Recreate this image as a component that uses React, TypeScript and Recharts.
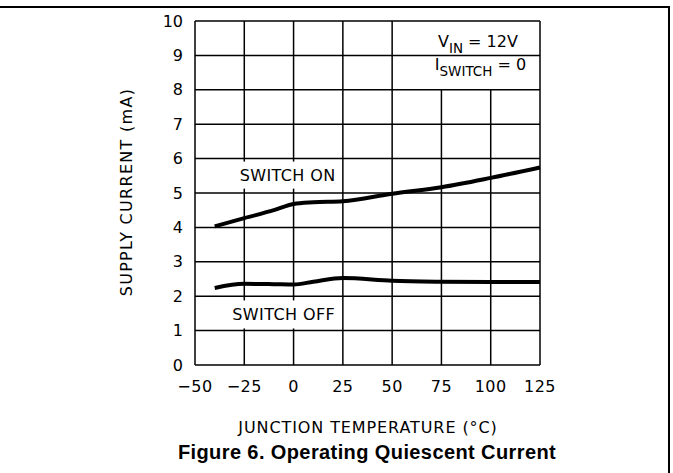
import React from 'react';
import { LineChart, Line, XAxis, YAxis, CartesianGrid, ReferenceLine, ReferenceDot } from 'recharts';

// Operating quiescent current vs junction temperature
const temps = [-40, -25, -10, 0, 10, 25, 50, 75, 100, 125];
const switchOn = [4.03, 4.27, 4.5, 4.68, 4.73, 4.76, 4.98, 5.17, 5.44, 5.74];
const switchOff = [2.24, 2.36, 2.35, 2.34, 2.42, 2.53, 2.45, 2.42, 2.41, 2.41];

const xTicks = [-50, -25, 0, 25, 50, 75, 100, 125];
const yTicks = [0, 1, 2, 3, 4, 5, 6, 7, 8, 9, 10];
const fullVerticals = [-50, -25, 0, 25, 50, 125];
const shortVerticals = [75, 100]; // stop under the condition boxes

const data = temps.map((t, i) => ({ t, on: switchOn[i], off: switchOff[i] }));

const FONT = "'DejaVu Sans', sans-serif";

const fmtTick = (v: number) => (v < 0 ? `\u2212${Math.abs(v)}` : `${v}`);

const BoxLabel = (props: any) => {
  const { viewBox, text, w, h } = props;
  const cx = viewBox.x + viewBox.width / 2;
  const cy = viewBox.y + viewBox.height / 2;
  return (
    <g>
      <rect x={cx - w / 2} y={cy - h / 2} width={w} height={h} fill="#fff" />
      <text x={cx} y={cy} textAnchor="middle" dominantBaseline="central" fontFamily={FONT} fontSize={16} letterSpacing={0.4} fill="#000">
        {text}
      </text>
    </g>
  );
};

const SubLabel = (props: any) => {
  const { viewBox, main, sub, rest } = props;
  const x = viewBox.x + viewBox.width / 2;
  const y = viewBox.y + viewBox.height / 2;
  return (
    <text x={x} y={y} textAnchor="end" fontFamily={FONT} fontSize={16} fill="#000">
      <tspan>{main}</tspan>
      <tspan fontSize={13.5} dy={6}>{sub}</tspan>
      <tspan dy={-6}>{rest}</tspan>
    </text>
  );
};

export default function App() {
  return (
    <div style={{ position: 'absolute', left: 0, top: 0, width: 673, height: 473, background: '#fff' }}>
      <div style={{ position: 'absolute', left: 0, top: 6, width: 670, height: 2, background: '#000' }} />
      <div style={{ position: 'absolute', left: 668, top: 6, width: 2, height: 467, background: '#000' }} />

      <LineChart width={673} height={473} data={data} margin={{ top: 21, right: 133, bottom: 78, left: 135 }}>
        <CartesianGrid vertical={false} stroke="#000" strokeWidth={1.5} strokeOpacity={1} />
        {fullVerticals.map((v) => (
          <ReferenceLine key={v} x={v} stroke="#000" strokeWidth={1.5} />
        ))}
        {shortVerticals.map((v) => (
          <ReferenceLine key={v} segment={[{ x: v, y: 0 }, { x: v, y: 8 }]} stroke="#000" strokeWidth={1.5} />
        ))}
        <XAxis
          dataKey="t"
          type="number"
          domain={[-50, 125]}
          ticks={xTicks}
          tickFormatter={fmtTick}
          axisLine={false}
          tickLine={false}
          tickMargin={10}
          height={30}
          tick={{ fill: '#000', fontSize: 16, fontFamily: FONT, letterSpacing: 0.5 }}
        />
        <YAxis
          type="number"
          domain={[0, 10]}
          ticks={yTicks}
          axisLine={false}
          tickLine={false}
          tickMargin={6}
          width={60}
          tick={{ fill: '#000', fontSize: 16, fontFamily: FONT }}
        />
        <Line dataKey="on" type="monotone" stroke="#000" strokeWidth={4} dot={false} isAnimationActive={false} />
        <Line dataKey="off" type="monotone" stroke="#000" strokeWidth={4} dot={false} isAnimationActive={false} />
        <ReferenceDot x={-3} y={5.52} r={0} fill="none" stroke="none" label={<BoxLabel text="SWITCH ON" w={106} h={27} />} />
        <ReferenceDot x={-5} y={1.47} r={0} fill="none" stroke="none" label={<BoxLabel text="SWITCH OFF" w={114} h={28} />} />
        <ReferenceDot x={113.8} y={9.24} r={0} fill="none" stroke="none" label={<SubLabel main="V" sub="IN" rest=" = 12V" />} />
        <ReferenceDot x={118} y={8.58} r={0} fill="none" stroke="none" label={<SubLabel main="I" sub="SWITCH" rest=" = 0" />} />
      </LineChart>

      <div style={{ position: 'absolute', left: 218, top: 418, width: 300, height: 20, lineHeight: '20px', textAlign: 'center', whiteSpace: 'nowrap', fontFamily: FONT, fontSize: 16, letterSpacing: 0.9 }}>
        JUNCTION TEMPERATURE (°C)
      </div>
      <div style={{ position: 'absolute', left: -23, top: 182, width: 300, height: 20, lineHeight: '20px', textAlign: 'center', whiteSpace: 'nowrap', fontFamily: FONT, fontSize: 16, letterSpacing: 1.3, transform: 'rotate(-90deg)' }}>
        SUPPLY CURRENT (mA)
      </div>
      <div style={{ position: 'absolute', left: 117, top: 441, width: 500, height: 22, lineHeight: '22px', textAlign: 'center', whiteSpace: 'nowrap', fontFamily: "'Liberation Sans', Arial, sans-serif", fontWeight: 'bold', fontSize: 20, letterSpacing: 0.4 }}>
        Figure 6. Operating Quiescent Current
      </div>
    </div>
  );
}
